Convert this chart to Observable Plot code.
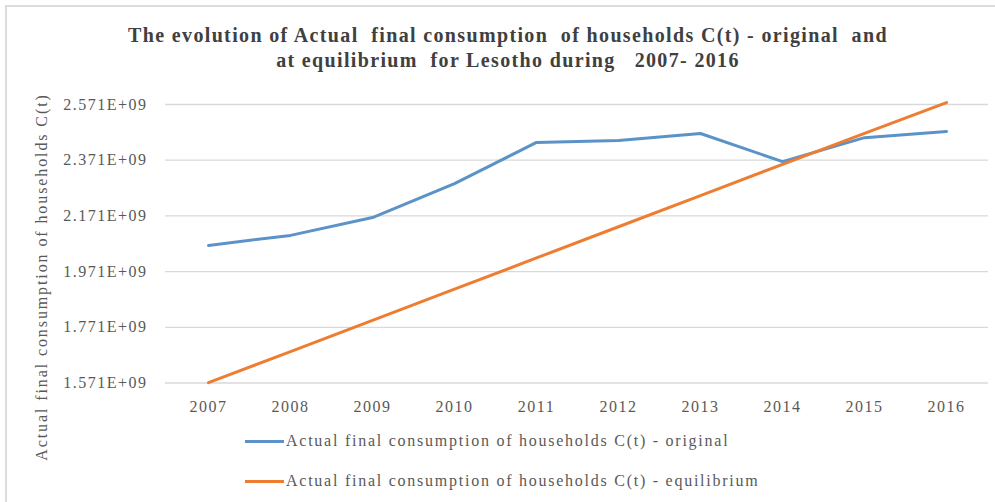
<!DOCTYPE html>
<html>
<head>
<meta charset="utf-8">
<script src="https://cdn.jsdelivr.net/npm/d3@7"></script>
<script src="https://cdn.jsdelivr.net/npm/@observablehq/plot@0.6"></script>
<style>
  html, body { margin: 0; padding: 0; background: #fff; }
  #wrap { position: relative; width: 995px; height: 502px; overflow: hidden; font-family: "Liberation Serif", "Times New Roman", serif; }
  #frame { position: absolute; left: 5px; top: 5px; width: 1000px; height: 600px; border-top: 2px solid #dcdcdc; border-left: 2px solid #dcdcdc; }
  #title { position: absolute; left: 0; width: 1016px; top: 23px; text-align: center; font-weight: bold; font-size: 20px; line-height: 25px; color: #404040; letter-spacing: 1.35px; }
  #ylab { position: absolute; left: 42px; top: 277px; transform: translate(-50%, -50%) rotate(-90deg); white-space: nowrap; font-size: 16px; color: #595959; letter-spacing: 1.9px; }
  .leg { position: absolute; left: 245px; height: 20px; display: flex; align-items: center; font-size: 16px; color: #595959; letter-spacing: 1.75px; white-space: nowrap; }
  .sw { width: 39px; height: 3px; margin-right: 2px; }
  #chart svg text { letter-spacing: 1.5px; }
</style>
</head>
<body>
<div id="wrap">
  <div id="frame"></div>
  <div id="chart"></div>
  <div id="title">The evolution of Actual&nbsp; final consumption&nbsp; of households C(t) - original&nbsp; and<br>at equilibrium&nbsp; for Lesotho during&nbsp;&nbsp; 2007- 2016</div>
  <div id="ylab">Actual final consumption of households C(t)</div>
  <div class="leg" style="top:431px"><div class="sw" style="background:#5b93c9"></div>Actual final consumption of households C(t) - original</div>
  <div class="leg" style="top:471px"><div class="sw" style="background:#ed7d31"></div>Actual final consumption of households C(t) - equilibrium</div>
</div>
<script>
const years = ["2007","2008","2009","2010","2011","2012","2013","2014","2015","2016"];
const original = [2.065e9, 2.101e9, 2.165e9, 2.287e9, 2.435e9, 2.442e9, 2.467e9, 2.366e9, 2.452e9, 2.474e9];
const equilibrium = [1.572e9, 1.684e9, 1.796e9, 1.908e9, 2.020e9, 2.132e9, 2.244e9, 2.356e9, 2.467e9, 2.578e9];
const yTicks = [1.571e9, 1.771e9, 1.971e9, 2.171e9, 2.371e9, 2.571e9];
const seriesNames = ["Actual final consumption of households C(t) - original", "Actual final consumption of households C(t) - equilibrium"];
const seriesColors = ["#5b93c9", "#ed7d31"];

const data = [
  ...years.map((y, i) => ({year: y, value: original[i], series: seriesNames[0]})),
  ...years.map((y, i) => ({year: y, value: equilibrium[i], series: seriesNames[1]}))
];

const fmt = d => {
  const [m, e] = d.toExponential(3).split("e");
  const ex = +e;
  return m + "E" + (ex < 0 ? "-" : "+") + String(Math.abs(ex)).padStart(2, "0");
};

const chart = Plot.plot({
  width: 995,
  height: 502,
  marginLeft: 165,
  marginRight: 7,
  marginTop: 104,
  marginBottom: 119.5,
  style: {fontFamily: "Liberation Serif, Times New Roman, serif", fontSize: "16px", color: "#595959", background: "transparent", overflow: "visible"},
  x: {type: "point", domain: years, padding: 0.5, label: null},
  y: {domain: [1.571e9, 2.571e9], label: null},
  color: {domain: seriesNames, range: seriesColors},
  marks: [
    Plot.ruleY(yTicks, {stroke: "#d9d9d9", strokeWidth: 1.3}),
    Plot.axisY({ticks: yTicks, tickSize: 0, tickPadding: 18, tickFormat: fmt, label: null, fill: "#595959"}),
    Plot.axisX({tickSize: 0, tickPadding: 18, label: null, fill: "#595959"}),
    Plot.line(data, {x: "year", y: "value", z: "series", stroke: "series", strokeWidth: 3, strokeLinejoin: "round", strokeLinecap: "round"})
  ]
});
document.getElementById("chart").appendChild(chart);
</script>
</body>
</html>
